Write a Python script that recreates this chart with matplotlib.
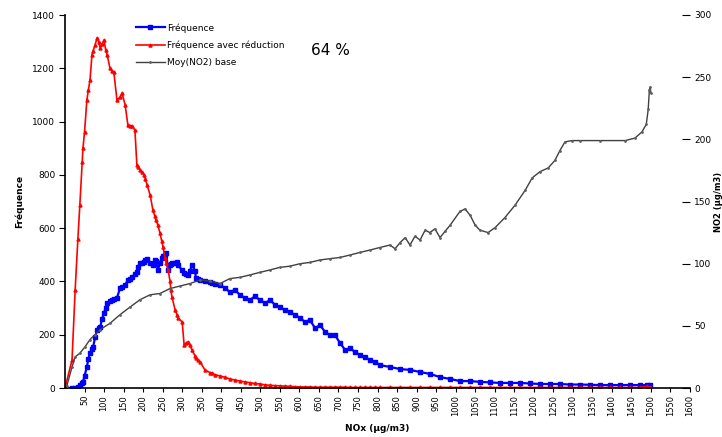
import matplotlib
matplotlib.use("Agg")
import matplotlib.pyplot as plt
import numpy as np

# NOx bins (µg/m3) and frequencies
nox_freq = [0, 18, 26, 33, 38, 44, 46, 50, 56, 60, 64, 69, 72, 77, 82, 86, 90, 95, 100, 104,
            108, 115, 120, 125, 133, 141, 146, 154, 161, 166, 172, 179, 184, 188, 192, 197, 202,
            206, 210, 218, 225, 230, 233, 238, 243, 248, 251, 256, 259, 264, 269, 271, 274, 282,
            287, 289, 300, 305, 310, 315, 320, 325, 333, 335, 340, 346, 358, 371, 376, 384, 397,
            410, 422, 435, 448, 461, 474, 486, 499, 512, 525, 538, 550, 563, 576, 589, 602, 614,
            627, 640, 653, 666, 678, 691, 704, 717, 730, 742, 755, 768, 781, 794, 806, 832, 858,
            883, 909, 934, 960, 986, 1011, 1037, 1062, 1088, 1114, 1140, 1165, 1190, 1216, 1241,
            1267, 1292, 1318, 1344, 1370, 1395, 1420, 1446, 1472, 1490, 1498]

freq_reduced = [0, 105, 368, 560, 687, 848, 900, 960, 1081, 1120, 1156, 1250, 1265, 1287, 1314,
                1300, 1276, 1290, 1306, 1270, 1250, 1201, 1190, 1186, 1081, 1092, 1107, 1062, 987,
                985, 983, 968, 837, 830, 818, 810, 800, 785, 762, 724, 668, 645, 631, 610, 582,
                550, 529, 488, 470, 443, 400, 368, 340, 293, 275, 263, 248, 161, 168, 173, 160,
                143, 120, 113, 105, 98, 68, 58, 56, 50, 45, 40, 34, 30, 26, 23, 20, 17, 15, 12, 10,
                9, 8, 7, 6, 5, 4, 4, 4, 3, 3, 3, 3, 3, 3, 3, 2, 2, 2, 2, 2, 2, 2, 2, 2, 2, 2, 2, 2,
                2, 2, 2, 2, 2, 2, 2, 2, 2, 2, 2, 2, 2, 2, 2, 2, 2, 2, 2, 2, 6, 3]

freq_base = [0, 0, 0, 3, 10, 18, 23, 45, 79, 110, 131, 145, 154, 190, 218, 225, 229, 260, 282,
             300, 319, 326, 330, 334, 338, 375, 380, 387, 405, 410, 417, 428, 435, 455, 469, 471,
             473, 480, 484, 470, 462, 480, 475, 443, 470, 488, 495, 500, 507, 443, 460, 465, 469,
             470, 473, 460, 443, 432, 428, 424, 440, 462, 440, 413, 410, 405, 400, 398, 394, 390,
             387, 375, 360, 368, 349, 338, 330, 345, 330, 319, 330, 312, 304, 293, 285, 274, 263,
             248, 255, 225, 236, 210, 199, 199, 169, 143, 150, 135, 124, 116, 105, 98, 86, 79, 71,
             68, 60, 53, 41, 34, 26, 26, 23, 21, 19, 19, 19, 17, 15, 15, 15, 13, 13, 12, 11, 11,
             11, 11, 11, 11, 10]

# NOx bins (µg/m3) and mean NO2 of the base case (µg/m3)
nox_no2 = [5, 18, 26, 38, 51, 64, 77, 90, 115, 141, 166, 192, 218, 243, 269, 294, 320, 346, 371,
           397, 422, 448, 474, 499, 525, 550, 576, 602, 627, 653, 678, 704, 730, 755, 781, 806,
           832, 845, 858, 871, 883, 896, 909, 922, 934, 947, 960, 973, 986, 1011, 1024, 1037,
           1050, 1062, 1083, 1101, 1126, 1152, 1178, 1196, 1216, 1237, 1254, 1267, 1280, 1298,
           1318, 1370, 1434, 1459, 1477, 1488, 1493, 1496, 1498, 1500]
no2_base = [2, 17, 25, 28, 33, 39, 43, 47, 52, 59, 65, 71, 75, 76, 80, 82, 84, 87, 86, 84, 88,
            89, 91, 93, 95, 97, 98, 100, 101, 103, 104, 105, 107, 109, 111, 113, 115, 112, 117,
            121, 115, 122, 119, 127, 125, 128, 121, 126, 131, 142, 144, 139, 131, 127, 125, 129,
            137, 147, 159, 169, 174, 177, 183, 191, 198, 199, 199, 199, 199, 201, 206, 212, 224,
            240, 242, 237]

legend_labels = ["Fréquence", "Fréquence avec réduction", "Moy(NO2) base"]
reduction_text = "64 %"
x_ticks = list(range(50, 1601, 50))
left_ticks = list(range(0, 1401, 200))
right_ticks = list(range(0, 301, 50))

fig = plt.figure(figsize=(7.22, 4.37), dpi=100)
ax = fig.add_axes([65 / 722, 49 / 437, 625 / 722, 373 / 437])
ax2 = ax.twinx()

l1, = ax.plot(nox_freq, freq_base, color="#0000FF", lw=1.6, marker="s", ms=2.6,
              mec="#0000FF", mfc="#0000FF")
l2, = ax.plot(nox_freq, freq_reduced, color="#FF0000", lw=1.2, marker="^", ms=2.2,
              mec="#FF0000", mfc="#FF0000")
l3, = ax2.plot(nox_no2, no2_base, color="#404040", lw=1.0, marker=".", ms=2.0,
               mec="#606060", mfc="#606060")

ax.set_xlim(0, 1600)
ax.set_ylim(0, 1400)
ax2.set_ylim(0, 300)

for a in (ax, ax2):
    for side in ("top", "right"):
        a.spines[side].set_visible(False)
ax2.spines["left"].set_visible(False)
ax2.spines["bottom"].set_visible(False)
ax.spines["left"].set_linewidth(1.2)
ax.spines["bottom"].set_linewidth(1.2)

ax.set_xticks(x_ticks)
ax.set_xticklabels([str(v) for v in x_ticks], rotation=90, fontsize=6)
ax.set_yticks(left_ticks)
ax.set_yticklabels([str(v) for v in left_ticks], fontsize=6.5)
ax.tick_params(axis="x", direction="out", length=3, width=0.8, pad=2)
ax.tick_params(axis="y", direction="out", length=4, width=0.8, pad=3)

ax2.set_yticks(right_ticks)
ax2.set_yticklabels([str(v) for v in right_ticks], fontsize=6.5)
ax2.tick_params(axis="y", direction="in", length=6, width=0.8, pad=3)

ax.set_xlabel("NOx (µg/m3)", fontsize=6.5, fontweight="bold", labelpad=6)
ax.set_ylabel("Fréquence", fontsize=6.5, fontweight="bold", labelpad=6)
ax2.set_ylabel("NO2 (µg/m3)", fontsize=6, fontweight="bold", labelpad=2)

leg = ax.legend([l1, l2, l3], legend_labels, loc="upper left",
                bbox_to_anchor=(0.1, 1.0), frameon=False, fontsize=6.5,
                handlelength=3.2, handletextpad=0.3, labelspacing=0.9)

ax.text(0.393, 0.905, reduction_text, transform=ax.transAxes, fontsize=11,
        ha="left", va="center")

fig.savefig("out.png", dpi=100)
